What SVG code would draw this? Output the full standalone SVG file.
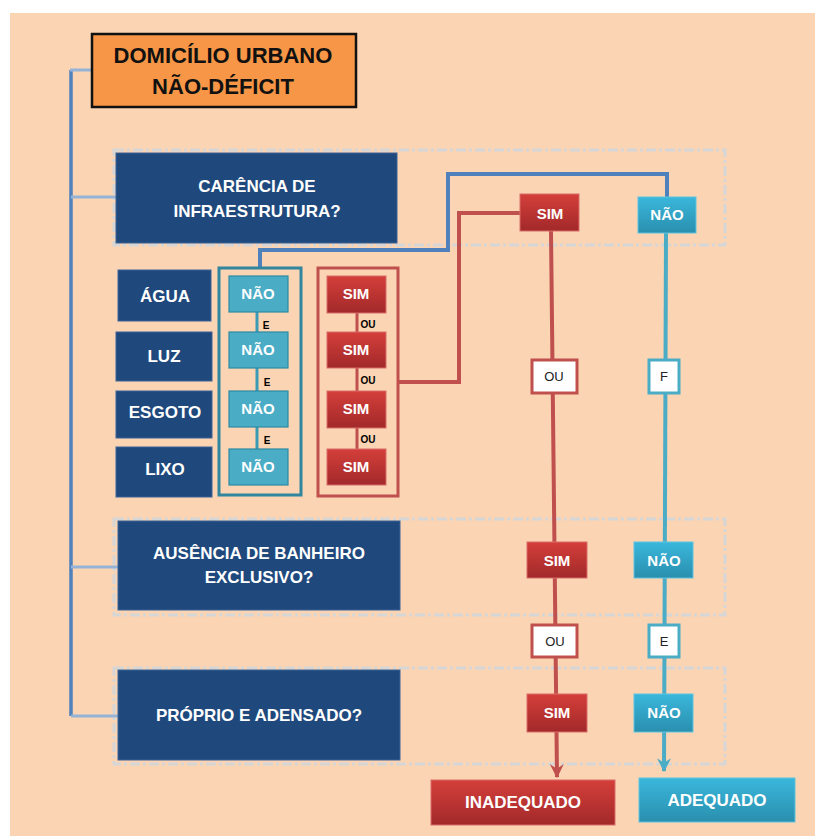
<svg xmlns="http://www.w3.org/2000/svg" width="815" height="836" viewBox="0 0 815 836">
<defs>
<linearGradient id="gRed" x1="0" y1="0" x2="0" y2="1"><stop offset="0" stop-color="#D43F3A"/><stop offset="1" stop-color="#A2292A"/></linearGradient>
<linearGradient id="gCyan" x1="0" y1="0" x2="0" y2="1"><stop offset="0" stop-color="#3AB7DC"/><stop offset="1" stop-color="#2A8FAE"/></linearGradient>
<marker id="arR" viewBox="0 0 12 12" refX="11" refY="6" markerWidth="14" markerHeight="14" markerUnits="userSpaceOnUse" orient="auto"><path d="M0,0 L12,6 L0,12 L4,6 z" fill="#C0504D"/></marker>
<marker id="arC" viewBox="0 0 12 12" refX="11" refY="6" markerWidth="14" markerHeight="14" markerUnits="userSpaceOnUse" orient="auto"><path d="M0,0 L12,6 L0,12 L4,6 z" fill="#4BACC6"/></marker>
<style>
text{font-family:"Liberation Sans",Arial,sans-serif;font-weight:bold;text-anchor:middle}
.q{fill:#1F497D;stroke:#3B6397;stroke-width:1}
.qt{fill:#FFFFFF;font-size:17px}
.dash{fill:none;stroke:#D6D6D6;stroke-width:3;stroke-dasharray:10 3 3 3}
.sim{fill:url(#gRed);stroke:#D96C69;stroke-width:1}
.nao{fill:url(#gCyan);stroke:#5EC3DF;stroke-width:1}
.gnao{fill:#4BACC6;stroke:#2E8AA3;stroke-width:1.2}
.bt{fill:#FFFFFF;font-size:15px}
.lg{fill:#000000;font-size:10px}
.wb{fill:#FFFFFF;stroke-width:3}
.wt{fill:#222222;font-size:13px;font-weight:normal}
</style>
</defs>
<rect x="0" y="0" width="815" height="836" fill="#FFFFFF"/>
<rect x="10" y="13" width="805" height="823" fill="#FBD4B4"/>

<g id="containers">
<rect class="dash" x="114" y="150" width="611" height="95"/>
<rect class="dash" x="114" y="519" width="611" height="96"/>
<rect class="dash" x="114" y="668" width="611" height="96"/>
</g>

<g id="connectors">
<path d="M71 70 V716" stroke="#4F81BD" stroke-width="3.5" fill="none"/>
<path d="M70 70 H92 M71 197 H116 M71 567 H118 M71 716 H118" stroke="#95B3D7" stroke-width="3" fill="none"/>
<path d="M260 268 V250 H448 V174 H667 V197" stroke="#4F81BD" stroke-width="4" fill="none"/>
<path d="M398 382 H459 V213 H520" stroke="#C0504D" stroke-width="4" fill="none"/>
<path d="M551 231 L557 777" stroke="#C0504D" stroke-width="4" fill="none" marker-end="url(#arR)"/>
<path d="M666 233 L664 771" stroke="#4BACC6" stroke-width="4" fill="none" marker-end="url(#arC)"/>
<path d="M257 312 V449" stroke="#3A9BB5" stroke-width="3" fill="none"/>
<path d="M357 313 V449" stroke="#C0504D" stroke-width="3" fill="none"/>
</g>

<g id="title">
<rect x="92" y="34" width="264" height="73" fill="#F79646" stroke="#111111" stroke-width="2.5"/>
<text x="223" y="63" font-size="22" fill="#111111">DOMICÍLIO URBANO</text>
<text x="223" y="94" font-size="22" fill="#111111">NÃO-DÉFICIT</text>
</g>

<g id="q-carencia">
<rect class="q" x="116" y="153" width="281" height="90"/>
<text class="qt" x="257" y="192">CARÊNCIA DE</text>
<text class="qt" x="257" y="217">INFRAESTRUTURA?</text>
</g>
<g id="q-banheiro">
<rect class="q" x="118" y="521" width="282" height="89"/>
<text class="qt" x="259" y="559">AUSÊNCIA DE BANHEIRO</text>
<text class="qt" x="259" y="583">EXCLUSIVO?</text>
</g>
<g id="q-proprio">
<rect class="q" x="118" y="670" width="282" height="90"/>
<text class="qt" x="259" y="721">PRÓPRIO E ADENSADO?</text>
</g>

<g id="agua"><rect class="q" x="118" y="270" width="93" height="51"/><text class="qt" x="165" y="302">ÁGUA</text></g>
<g id="luz"><rect class="q" x="116" y="332" width="96" height="49"/><text class="qt" x="164" y="362">LUZ</text></g>
<g id="esgoto"><rect class="q" x="116" y="391" width="96" height="47"/><text class="qt" x="165" y="418">ESGOTO</text></g>
<g id="lixo"><rect class="q" x="116" y="447" width="96" height="50"/><text class="qt" x="165" y="475">LIXO</text></g>

<g id="grupo-nao">
<rect x="219" y="268" width="82" height="227" fill="none" stroke="#31859C" stroke-width="3"/>
<rect class="gnao" x="229" y="276" width="59" height="36"/><text class="bt" x="258" y="299">NÃO</text>
<rect class="gnao" x="229" y="332" width="59" height="36"/><text class="bt" x="258" y="355">NÃO</text>
<rect class="gnao" x="229" y="391" width="59" height="36"/><text class="bt" x="258" y="414">NÃO</text>
<rect class="gnao" x="229" y="449" width="59" height="36"/><text class="bt" x="258" y="472">NÃO</text>
<text class="lg" x="266" y="329">E</text>
<text class="lg" x="267" y="386">E</text>
<text class="lg" x="267" y="444">E</text>
</g>

<g id="grupo-sim">
<rect x="318" y="268" width="80" height="228" fill="none" stroke="#C0504D" stroke-width="3"/>
<rect class="sim" x="327" y="276" width="59" height="37"/><text class="bt" x="356" y="299">SIM</text>
<rect class="sim" x="327" y="332" width="59" height="36"/><text class="bt" x="356" y="355">SIM</text>
<rect class="sim" x="327" y="391" width="59" height="37"/><text class="bt" x="356" y="414">SIM</text>
<rect class="sim" x="327" y="449" width="59" height="36"/><text class="bt" x="356" y="472">SIM</text>
<text class="lg" x="368" y="328">OU</text>
<text class="lg" x="368" y="384">OU</text>
<text class="lg" x="368" y="443">OU</text>
</g>

<g id="sim-1"><rect class="sim" x="520" y="194" width="59" height="37"/><text class="bt" x="550" y="219">SIM</text></g>
<g id="nao-1"><rect class="nao" x="638" y="197" width="58" height="36"/><text class="bt" x="667" y="220">NÃO</text></g>
<g id="ou-1"><rect class="wb" x="532" y="360" width="45" height="33" stroke="#C0504D"/><text class="wt" x="554" y="381">OU</text></g>
<g id="e-1"><rect class="wb" x="649" y="360" width="30" height="33" stroke="#4BACC6"/><text class="wt" x="664" y="381">F</text></g>
<g id="sim-2"><rect class="sim" x="527" y="542" width="60" height="36"/><text class="bt" x="557" y="566">SIM</text></g>
<g id="nao-2"><rect class="nao" x="634" y="542" width="59" height="36"/><text class="bt" x="664" y="566">NÃO</text></g>
<g id="ou-2"><rect class="wb" x="532" y="625" width="45" height="32" stroke="#C0504D"/><text class="wt" x="555" y="646">OU</text></g>
<g id="e-2"><rect class="wb" x="649" y="625" width="30" height="32" stroke="#4BACC6"/><text class="wt" x="664" y="646">E</text></g>
<g id="sim-3"><rect class="sim" x="527" y="694" width="60" height="38"/><text class="bt" x="557" y="718">SIM</text></g>
<g id="nao-3"><rect class="nao" x="634" y="694" width="59" height="38"/><text class="bt" x="664" y="718">NÃO</text></g>

<g id="inadequado"><rect class="sim" x="431" y="780" width="184" height="45"/><text class="qt" x="523" y="808">INADEQUADO</text></g>
<g id="adequado"><rect class="nao" x="639" y="778" width="156" height="44"/><text class="qt" x="717" y="806">ADEQUADO</text></g>
</svg>
